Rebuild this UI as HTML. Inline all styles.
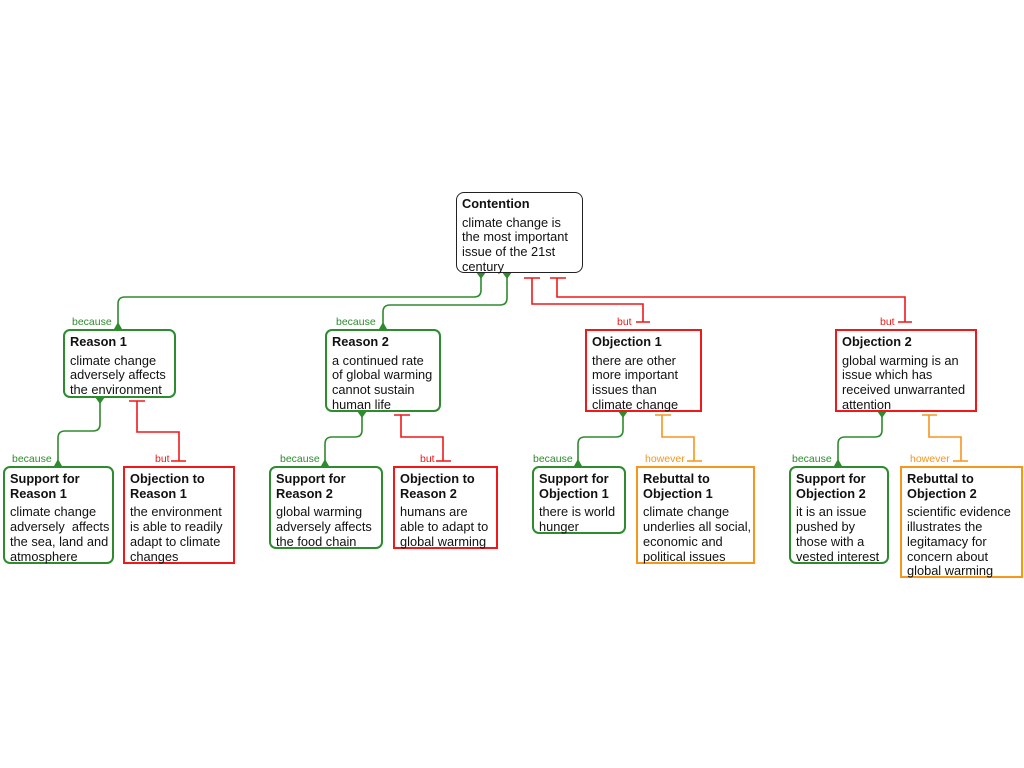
<!DOCTYPE html>
<html><head><meta charset="utf-8"><style>
body{margin:0;width:1024px;height:768px;background:#fff;position:relative;overflow:hidden;font-family:"Liberation Sans",sans-serif;}
.b{position:absolute;box-sizing:border-box;padding:4px 2px 2px 5px;font-size:12.8px;line-height:14.7px;color:#111;background:#fff;white-space:nowrap;overflow:visible;}
.b b{display:block;margin-bottom:4px;font-size:12.8px;}
.g{border:2px solid #2e8b2e;border-radius:7px;}
.r{border:2px solid #f01818;}
.o{border:2px solid #f7951d;}
.k{border:1.5px solid #222;border-radius:8px;}
.l{position:absolute;font-size:10.5px;line-height:10px;}
svg{position:absolute;left:0;top:0;}
</style></head><body>
<svg width="1024" height="768" fill="none" stroke-width="1.6">
<g stroke="#2e8b2e">
<path d="M481 272 V290 Q481 297 474 297 H125 Q118 297 118 304 V329"/>
<path d="M507 272 V298 Q507 305 500 305 H390 Q383 305 383 312 V329"/>
<path d="M100 397 V424 Q100 431 93 431 H65 Q58 431 58 438 V466"/>
<path d="M362 411 V430 Q362 437 355 437 H332 Q325 437 325 444 V466"/>
<path d="M623 411 V430 Q623 437 616 437 H585 Q578 437 578 444 V466"/>
<path d="M882 411 V430 Q882 437 875 437 H845 Q838 437 838 444 V466"/>
</g>
<g fill="#2e8b2e">
<path d="M476 272 L486 272 L481 279Z"/><path d="M502 272 L512 272 L507 279Z"/>
<path d="M114 329 L122 329 L118 322Z"/><path d="M379 329 L387 329 L383 322Z"/>
<path d="M95 397 L105 397 L100 404Z"/><path d="M357 411 L367 411 L362 418Z"/>
<path d="M618 411 L628 411 L623 418Z"/><path d="M877 411 L887 411 L882 418Z"/>
<path d="M54 466 L62 466 L58 459Z"/><path d="M321 466 L329 466 L325 459Z"/>
<path d="M574 466 L582 466 L578 459Z"/><path d="M834 466 L842 466 L838 459Z"/>
</g>
<g stroke="#f01818">
<path d="M524 278 H540 M532 278 V304 H643 V322 M636 322 H650"/>
<path d="M550 278 H566 M557 278 V297 H905 V322 M898 322 H912"/>
<path d="M129 401 H145 M137 401 V432 H179 V461 M171 461 H186"/>
<path d="M394 415 H410 M401 415 V437 H443 V461 M436 461 H451"/>
</g>
<g stroke="#f7951d">
<path d="M655 415 H671 M662 415 V437 H694 V461 M687 461 H702"/>
<path d="M922 415 H937 M929 415 V437 H961 V461 M953 461 H968"/>
</g>
</svg>
<div class="l" style="left:72px;top:317px;color:#2e8b2e">because</div>
<div class="l" style="left:336px;top:317px;color:#2e8b2e">because</div>
<div class="l" style="left:617px;top:317px;color:#f01818">but</div>
<div class="l" style="left:880px;top:317px;color:#f01818">but</div>
<div class="l" style="left:12px;top:454px;color:#2e8b2e">because</div>
<div class="l" style="left:155px;top:454px;color:#f01818">but</div>
<div class="l" style="left:280px;top:454px;color:#2e8b2e">because</div>
<div class="l" style="left:420px;top:454px;color:#f01818">but</div>
<div class="l" style="left:533px;top:454px;color:#2e8b2e">because</div>
<div class="l" style="left:645px;top:454px;color:#f7951d">however</div>
<div class="l" style="left:792px;top:454px;color:#2e8b2e">because</div>
<div class="l" style="left:910px;top:454px;color:#f7951d">however</div>

<div class="b k" style="left:456px;top:192px;width:127px;height:81px"><b>Contention</b>climate change is<br>the most important<br>issue of the 21st<br>century</div>
<div class="b g" style="left:63px;top:329px;width:113px;height:69px"><b>Reason 1</b>climate change<br>adversely affects<br>the environment</div>
<div class="b g" style="left:325px;top:329px;width:116px;height:83px"><b>Reason 2</b>a continued rate<br>of global warming<br>cannot sustain<br>human life</div>
<div class="b r" style="left:585px;top:329px;width:117px;height:83px"><b>Objection 1</b>there are other<br>more important<br>issues than<br>climate change</div>
<div class="b r" style="left:835px;top:329px;width:142px;height:83px"><b>Objection 2</b>global warming is an<br>issue which has<br>received unwarranted<br>attention</div>
<div class="b g" style="left:3px;top:466px;width:111px;height:98px"><b>Support for<br>Reason 1</b>climate change<br>adversely&nbsp; affects<br>the sea, land and<br>atmosphere</div>
<div class="b r" style="left:123px;top:466px;width:112px;height:98px"><b>Objection to<br>Reason 1</b>the environment<br>is able to readily<br>adapt to climate<br>changes</div>
<div class="b g" style="left:269px;top:466px;width:114px;height:83px"><b>Support for<br>Reason 2</b>global warming<br>adversely affects<br>the food chain</div>
<div class="b r" style="left:393px;top:466px;width:105px;height:83px"><b>Objection to<br>Reason 2</b>humans are<br>able to adapt to<br>global warming</div>
<div class="b g" style="left:532px;top:466px;width:94px;height:68px"><b>Support for<br>Objection 1</b>there is world<br>hunger</div>
<div class="b o" style="left:636px;top:466px;width:119px;height:98px"><b>Rebuttal to<br>Objection 1</b>climate change<br>underlies all social,<br>economic and<br>political issues</div>
<div class="b g" style="left:789px;top:466px;width:100px;height:98px"><b>Support for<br>Objection 2</b>it is an issue<br>pushed by<br>those with a<br>vested interest</div>
<div class="b o" style="left:900px;top:466px;width:123px;height:112px"><b>Rebuttal to<br>Objection 2</b>scientific evidence<br>illustrates the<br>legitamacy for<br>concern about<br>global warming</div>
</body></html>
